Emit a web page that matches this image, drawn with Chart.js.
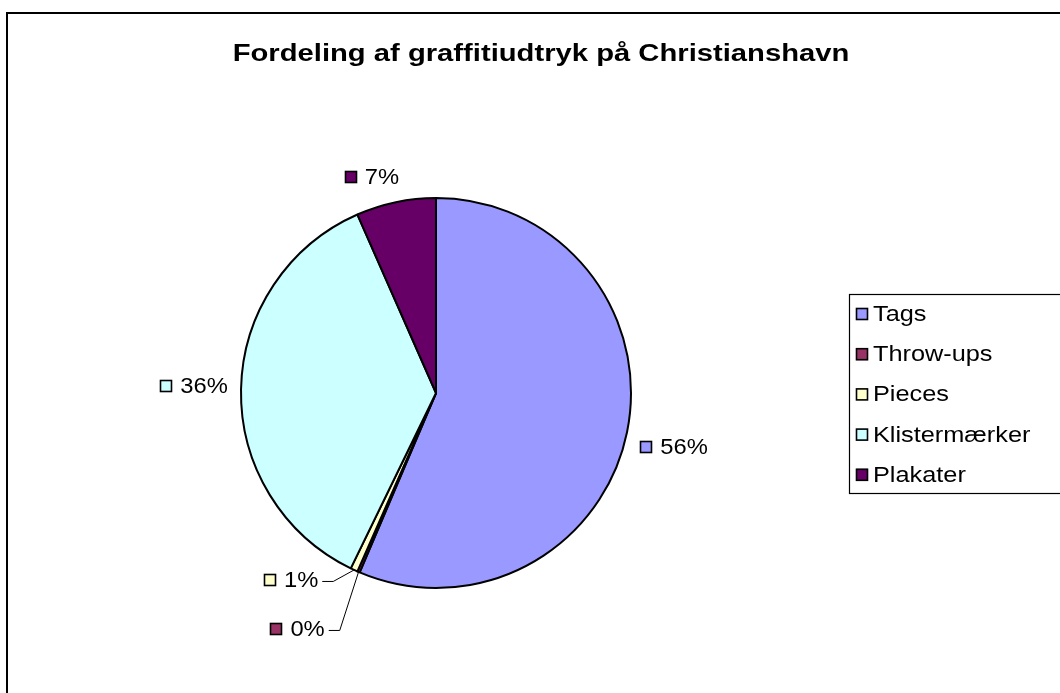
<!DOCTYPE html>
<html>
<head>
<meta charset="utf-8">
<script src="https://cdn.jsdelivr.net/npm/chart.js@4/dist/chart.umd.min.js"></script>
<style>
  html, body { margin: 0; padding: 0; background: #fff; }
  #chart { display: block; }
</style>
</head>
<body>
<canvas id="chart" width="1060" height="693"></canvas>
<script>
// Fordeling af graffitiudtryk — Excel-style pie, redrawn with Chart.js

const TITLE = 'Fordeling af graffitiudtryk på Christianshavn';
const categories = ['Tags', 'Throw-ups', 'Pieces', 'Klistermærker', 'Plakater'];
const shares = [56.4, 0.2, 0.6, 36.2, 6.6];
const sliceColors = ['#9999FF', '#993366', '#FFFFCC', '#CCFFFF', '#660066'];

// label placement, relative to the rim point at each slice's mid angle
const labelNudge = [[47, 15], [-61, 57], [-63, 10], [-47, -3], [-24, -25]];
const hasLeader = [false, true, true, false, false];

const FONT = '"Liberation Sans", Arial, sans-serif';
const LABEL_STRETCH = 1.08;
const LEGEND_STRETCH = 1.15;
const TITLE_STRETCH = 1.27;

function pctText(v) {
    const total = shares.reduce((a, b) => a + b, 0);
    return Math.round(v / total * 100) + '%';
}

function stretchedText(ctx, text, x, y, sx) {
    ctx.save();
    ctx.translate(x, y);
    ctx.scale(sx, 1);
    ctx.fillText(text, 0, 0);
    ctx.restore();
}

function swatch(ctx, x, y, color) {
    ctx.fillStyle = color;
    ctx.fillRect(x, y, 12, 12);
    ctx.strokeStyle = '#000';
    ctx.lineWidth = 1.6;
    ctx.strokeRect(x + 0.5, y + 0.5, 11, 11);
}

// ── Frame, title, legend, data labels ─────────────────────────────────

const excelDecor = {
    id: 'excelDecor',
    afterDraw(chart) {
        const ctx = chart.ctx;
        ctx.save();

        // outer chart frame (runs off the right and bottom of the picture)
        ctx.strokeStyle = '#000';
        ctx.lineWidth = 2;
        ctx.strokeRect(7, 13, 1100, 720);

        // title
        ctx.fillStyle = '#000';
        ctx.font = `bold 23px ${FONT}`;
        ctx.textBaseline = 'middle';
        const tw = ctx.measureText(TITLE).width * TITLE_STRETCH;
        stretchedText(ctx, TITLE, 541 - tw / 2, 55, TITLE_STRETCH);

        // legend box
        ctx.lineWidth = 1.2;
        ctx.strokeRect(849.5, 294.5, 260, 199);
        ctx.font = `22px ${FONT}`;
        categories.forEach((name, i) => {
            const cy = 314 + i * 40.2;
            swatch(ctx, 856, cy - 6, sliceColors[i]);
            ctx.fillStyle = '#000';
            stretchedText(ctx, name, 873, cy + 1, LEGEND_STRETCH);
        });

        // data labels
        const meta = chart.getDatasetMeta(0);
        ctx.font = `22px ${FONT}`;
        meta.data.forEach((arc, i) => {
            const p = arc.getProps(['x', 'y', 'startAngle', 'endAngle', 'outerRadius'], true);
            const mid = (p.startAngle + p.endAngle) / 2;
            const ex = p.x + Math.cos(mid) * p.outerRadius;
            const ey = p.y + Math.sin(mid) * p.outerRadius;
            const text = pctText(shares[i]);
            const textW = ctx.measureText(text).width * LABEL_STRETCH;
            const boxW = 12 + 8 + textW;
            const cx = ex + labelNudge[i][0];
            const cy = ey + labelNudge[i][1];
            const left = cx - boxW / 2;

            swatch(ctx, Math.round(left), Math.round(cy - 6), sliceColors[i]);
            ctx.fillStyle = '#000';
            stretchedText(ctx, text, left + 20, cy + 1, LABEL_STRETCH);

            if (hasLeader[i]) {
                const lx = left + boxW + 4;
                ctx.beginPath();
                ctx.moveTo(lx, cy + 1.5);
                ctx.lineTo(lx + 11, cy + 1.5);
                ctx.lineTo(ex, ey);
                ctx.strokeStyle = '#000';
                ctx.lineWidth = 1;
                ctx.stroke();
            }
        });

        ctx.restore();
    }
};

// ── Chart ─────────────────────────────────────────────────────────────

new Chart(document.getElementById('chart'), {
    type: 'pie',
    data: {
        labels: categories,
        datasets: [{
            data: shares,
            backgroundColor: sliceColors,
            borderColor: '#000',
            borderWidth: 2,
        }]
    },
    options: {
        responsive: false,
        animation: false,
        devicePixelRatio: 1,
        layout: { padding: { left: 240, right: 428, top: 197, bottom: 104 } },
        plugins: {
            legend: { display: false },
            title: { display: false },
            tooltip: { enabled: false },
        }
    },
    plugins: [excelDecor]
});
</script>
</body>
</html>
